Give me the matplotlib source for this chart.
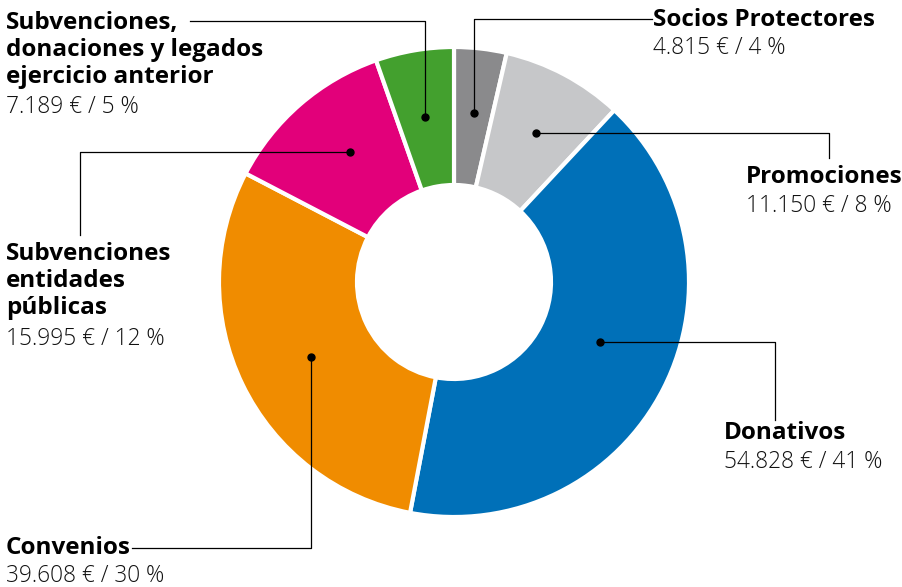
import matplotlib.pyplot as plt

# Datos (euros)
categorias = ["Socios Protectores", "Promociones", "Donativos", "Convenios",
              "Subvenciones\nentidades\npúblicas",
              "Subvenciones,\ndonaciones y legados\nejercicio anterior"]
importes = [4815, 11150, 54828, 39608, 15995, 7189]
etiquetas_valor = ["4.815 € / 4 %", "11.150 € / 8 %", "54.828 € / 41 %",
                   "39.608 € / 30 %", "15.995 € / 12 %", "7.189 € / 5 %"]
colores = ["#8a8a8c", "#c6c7c9", "#0070b8", "#f08c00", "#e2007a", "#43a02e"]

fig = plt.figure(figsize=(9.03, 5.87), dpi=100)
ax = fig.add_axes([0, 0, 1, 1])

# coordenadas en pixeles (y hacia abajo)
cx, cy, R = 454, 282, 235
ax.pie(importes, colors=colores, center=(cx, cy), radius=R,
       startangle=-90, counterclock=True,
       wedgeprops=dict(width=R - 97, edgecolor="white", linewidth=3))
ax.set_xlim(0, 903)
ax.set_ylim(587, 0)
ax.set_aspect("equal")
ax.axis("off")

fam = ["Open Sans", "DejaVu Sans"]
tit = dict(fontsize=17.5, fontweight="bold", family=fam, color="black",
           va="center", linespacing=1.19)
val = dict(fontsize=16.3, fontweight=300, family=fam, color="#111111",
           va="center")

# (texto x, titulo y, valor y, lineas guia, punto)
config = [
    (653, 20, 48, [(474, 113), (474, 19), (652, 19)]),
    (746, 177, 206, [(536, 133), (829, 133), (829, 158)]),
    (724, 433, 462, [(600, 342), (775, 342), (775, 420)]),
    (6, 548, 576, [(311, 357), (311, 548), (132, 548)]),
    (6, 281, 339, [(350, 152), (80, 152), (80, 235)]),
    (6, 50, 107, [(425, 117), (425, 21), (190, 21)]),
]

for cat, etq, (tx, ty, vy, pts) in zip(categorias, etiquetas_valor, config):
    ax.text(tx, ty, cat, **tit)
    ax.text(tx, vy, etq, **val)
    xs = [p[0] for p in pts]
    ys = [p[1] for p in pts]
    ax.plot(xs, ys, color="black", lw=0.9)
    ax.plot(xs[0], ys[0], "o", color="black", ms=5)

fig.savefig("out.png", dpi=100)
